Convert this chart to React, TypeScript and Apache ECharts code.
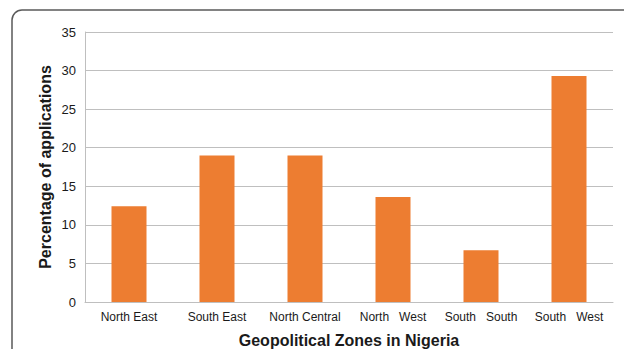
import React, { useEffect, useRef } from "react";
import * as echarts from "echarts";

const categories = ["North East", "South East", "North Central", "North   West", "South   South", "South   West"];
const values = [12.4, 19.0, 19.0, 13.6, 6.7, 29.3];
const yTicks = { min: 0, max: 35, interval: 5 };

export default function App() {
  const ref = useRef<HTMLDivElement>(null);
  useEffect(() => {
    const chart = echarts.init(ref.current!, null, { renderer: "svg" });
    const font = "'Liberation Sans', Arial, sans-serif";
    chart.setOption({
      animation: false,
      backgroundColor: "#ffffff",
      graphic: [
        {
          type: "rect",
          shape: { x: 12, y: 10, width: 700, height: 420, r: 10 },
          style: { fill: "none", stroke: "#5a5a5a", lineWidth: 1.5 },
          silent: true,
        },
      ],
      grid: { left: 85, right: 11, top: 32, bottom: 47, outerBoundsMode: "none", containLabel: false },
      xAxis: {
        type: "category",
        data: categories,
        axisLine: { show: true, lineStyle: { color: "#bfbfbf", width: 1 } },
        axisTick: { show: false },
        axisLabel: { color: "#1a1a1a", fontSize: 12, fontFamily: font, margin: 9, interval: 0 },
        name: "Geopolitical Zones in Nigeria",
        nameLocation: "middle",
        nameGap: 30,
        nameMoveOverlap: false,
        nameTextStyle: { color: "#1a1a1a", fontSize: 16, fontWeight: "bold", fontFamily: font },
      },
      yAxis: {
        type: "value",
        min: yTicks.min,
        max: yTicks.max,
        interval: yTicks.interval,
        axisLine: { show: true, lineStyle: { color: "#bfbfbf", width: 1 } },
        axisTick: { show: false },
        splitLine: { show: true, lineStyle: { color: "#bfbfbf", width: 1 } },
        axisLabel: { color: "#1a1a1a", fontSize: 13, fontFamily: font, margin: 9 },
        name: "Percentage of applications",
        nameLocation: "middle",
        nameGap: 32,
        nameMoveOverlap: false,
        nameTextStyle: { color: "#1a1a1a", fontSize: 16, fontWeight: "bold", fontFamily: font },
      },
      series: [
        {
          type: "bar",
          data: values,
          barWidth: 35,
          itemStyle: { color: "#ed7d31" },
        },
      ],
    });
    return () => chart.dispose();
  }, []);
  return (
    <div
      ref={ref}
      style={{ position: "fixed", left: 0, top: 0, width: 624, height: 349 }}
    />
  );
}
